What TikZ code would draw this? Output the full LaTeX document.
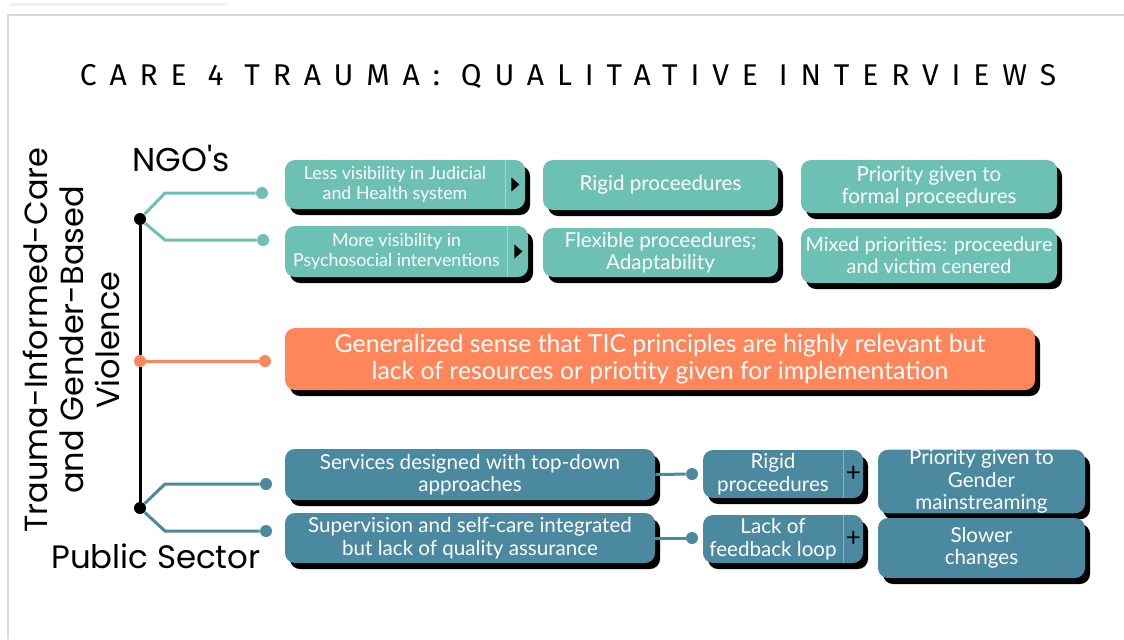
\documentclass[tikz,border=0pt]{standalone}
\usepackage{fontspec}
\setmainfont{Lato}
\newfontfamily\titlefont{Fira Sans}
\newfontfamily\headfont{Poppins}
\usetikzlibrary{shadows}

\definecolor{tealbox}{HTML}{6CC1B4}
\definecolor{orangebox}{HTML}{FF865A}
\definecolor{bluebox}{HTML}{4A89A0}
\definecolor{framegray}{HTML}{D8D8E2}

\tikzset{
  card/.style={rounded corners=5pt, text=white, align=center, inner sep=0pt,
    drop shadow={shadow xshift=2.5pt, shadow yshift=-3pt, fill=black, opacity=1}},
  tealcard/.style={card, fill=tealbox},
  orangecard/.style={card, fill=orangebox},
  bluecard/.style={card, fill=bluebox},
  cardtext/.style={text=white, align=center, inner sep=0pt},
  smallfont/.style={font=\fontsize{8.9}{9.8}\selectfont},
  boxfont/.style={font=\fontsize{10.3}{11.2}\selectfont},
  bigfont/.style={font=\fontsize{12.4}{13.6}\selectfont},
  bdot/.style={circle, fill=black, inner sep=0pt, minimum size=6pt},
  tdot/.style={circle, fill=tealbox, inner sep=0pt, minimum size=6pt},
  odot/.style={circle, fill=orangebox, inner sep=0pt, minimum size=6pt},
  udot/.style={circle, fill=bluebox, inner sep=0pt, minimum size=6pt},
  trunk/.style={line width=1.5pt, black},
  tealline/.style={line width=1.5pt, tealbox},
  orangeline/.style={line width=1.5pt, orangebox},
  blueline/.style={line width=1.5pt, bluebox},
  divider/.style={white, opacity=0.35, line width=0.5pt}
}

\begin{document}
\begin{tikzpicture}[x=0.5pt, y=-0.5pt]
  \useasboundingbox (0,0) rectangle (1124,639);
  \fill[white] (0,0) rectangle (1124,639);

  % frame of the page
  \draw[gray!12, line width=1.5pt] (10,4) -- (228,4);
  \draw[framegray, line width=1pt] (1124,15) -- (8,15) -- (8,639);

  % title
  \node (title) at (568,77)
    {\titlefont\fontsize{15}{18}\selectfont\addfontfeature{LetterSpace=43}CARE 4 TRAUMA: QUALITATIVE INTERVIEWS};

  % left labels
  \node[rotate=90, align=center, font=\headfont\fontsize{16}{18}\selectfont] (topic) at (71,340)
    {Trauma-Informed-Care\\and Gender-Based\\Violence};
  \node[font=\headfont\fontsize{16.5}{18}\selectfont] (ngolabel) at (181,159) {NGO's};
  \node[font=\headfont\fontsize{16.2}{18}\selectfont] (publabel) at (156,556) {Public Sector};

  % tree
  \node[bdot] (ngo) at (140,219) {};
  \node[odot] (mid) at (140,361) {};
  \node[bdot] (pub) at (140,508) {};
  \node[tdot] (td1) at (262,193) {};
  \node[tdot] (td2) at (263,240) {};
  \node[odot] (od1) at (265,361) {};
  \node[udot] (ud1) at (266,484) {};
  \node[udot] (ud2) at (266,531) {};

  \draw[trunk] (ngo) -- (mid) -- (pub);
  \draw[tealline] (ngo) -- ++(25,-26) -- (td1);
  \draw[tealline] (ngo) -- ++(25,21) -- (td2);
  \draw[orangeline] (mid) -- (od1);
  \draw[blueline] (pub) -- ++(25,-24) -- (ud1);
  \draw[blueline] (pub) -- ++(25,23) -- (ud2);

  % NGO boxes
  \node[tealcard, minimum width=120pt, minimum height=24.5pt] (lessv) at (405,184.5) {};
  \node[cardtext, smallfont] (lessvt) at ([xshift=-5pt]lessv.center) {Less visibility in Judicial\\and Health system};
  \draw[divider] ([xshift=-10pt]lessv.north east) -- ([xshift=-10pt]lessv.south east);
  \fill ([shift={(-14,-7)}]lessv.east) -- ++(0,14) -- ++(8,-7) -- cycle;

  \node[tealcard, minimum width=121.5pt, minimum height=25.5pt] (morev) at (406.5,251.5) {};
  \node[cardtext, smallfont] (morevt) at ([xshift=-5pt]morev.center) {More visibility in\\Psychosocial interventions};
  \draw[divider] ([xshift=-10.5pt]morev.north east) -- ([xshift=-10.5pt]morev.south east);
  \fill ([shift={(-14,-7)}]morev.east) -- ++(0,14) -- ++(8,-7) -- cycle;

  \node[tealcard, boxfont, minimum width=117.5pt, minimum height=25pt] (rigidn) at (660.5,185) {Rigid proceedures};
  \node[tealcard, boxfont, minimum width=128pt, minimum height=26.5pt] (formal) at (929,186.5) {Priority given to\\formal proceedures};
  \node[tealcard, boxfont, minimum width=117.5pt, minimum height=24.5pt] (flex) at (660.5,252.5) {Flexible proceedures;\\Adaptability};
  \node[tealcard, font=\fontsize{9.9}{11.2}\selectfont, minimum width=128pt, minimum height=27.5pt] (mixed) at (929,255.5) {Mixed priorities: proceedure\\and victim cenered};

  % shared box
  \node[orangecard, bigfont, minimum width=375pt, minimum height=31pt] (general) at (660,359)
    {Generalized sense that TIC principles are highly relevant but\\lack of resources or priotity given for implementation};

  % public sector boxes
  \node[bluecard, boxfont, minimum width=185pt, minimum height=25.5pt] (services) at (470,474.5) {Services designed with top-down\\approaches};
  \node[bluecard, boxfont, minimum width=185pt, minimum height=25pt] (superv) at (470,538) {Supervision and self-care integrated\\but lack of quality assurance};

  \node[udot] (sd1) at (692,474) {};
  \node[udot] (sd2) at (692,538) {};
  \draw[blueline] (services.east) -- (sd1);
  \draw[blueline] (superv.east) -- (sd2);

  \node[bluecard, minimum width=80pt, minimum height=24pt] (rigidp) at (783,474) {};
  \node[cardtext, boxfont] (rigidpt) at ([xshift=-5pt]rigidp.center) {Rigid\\proceedures};
  \draw[divider] ([xshift=-10pt]rigidp.north east) -- ([xshift=-10pt]rigidp.south east);
  \node[font=\fontsize{13}{13}\selectfont, inner sep=0pt] (plus1) at ([xshift=-5pt]rigidp.east) {+};

  \node[bluecard, minimum width=80pt, minimum height=24pt] (lackfb) at (783,539) {};
  \node[cardtext, boxfont] (lackfbt) at ([xshift=-5pt]lackfb.center) {Lack of\\feedback loop};
  \draw[divider] ([xshift=-10pt]lackfb.north east) -- ([xshift=-10pt]lackfb.south east);
  \node[font=\fontsize{13}{13}\selectfont, inner sep=0pt] (plus2) at ([xshift=-5pt]lackfb.east) {+};

  \node[bluecard, boxfont, minimum width=103.5pt, minimum height=31.5pt] (gender) at (981.5,481.5) {Priority given to\\Gender\\mainstreaming};
  \node[bluecard, boxfont, minimum width=103.5pt, minimum height=30pt] (slower) at (981.5,548) {Slower\\changes};
\end{tikzpicture}
\end{document}
